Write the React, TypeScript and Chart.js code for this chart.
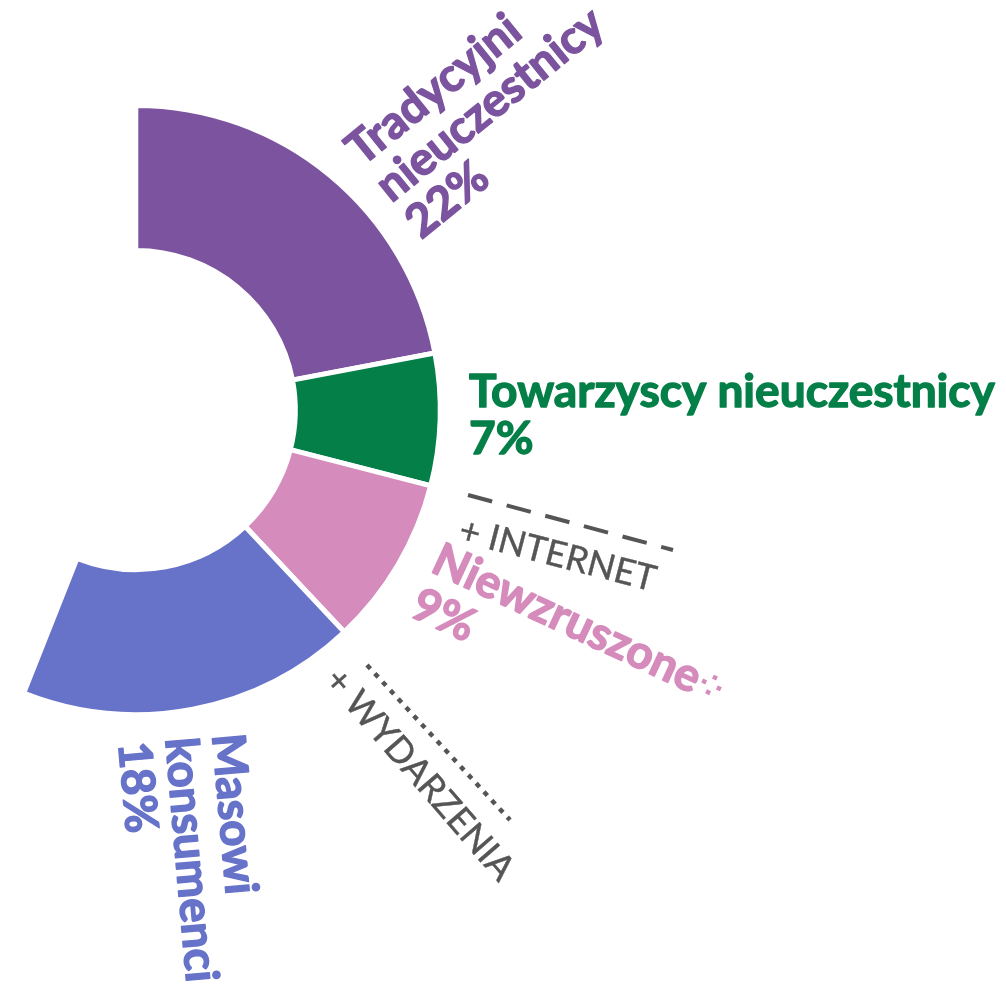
import { useEffect, useRef } from "react";
import { Chart, registerables } from "chart.js";

Chart.register(...registerables);

// ---- data ----
const categories = [
  "Tradycyjni nieuczestnicy",
  "Towarzyscy nieuczestnicy",
  "Niewzruszone",
  "Masowi konsumenci",
];
const shares = [22, 7, 9, 18];
const colors = ["#7B539E", "#047F48", "#D58BBB", "#6673C9"];
const labelLines = [
  ["Tradycyjni", "nieuczestnicy", "22%"],
  ["Towarzyscy nieuczestnicy", "7%"],
  ["Niewzruszone", "9%"],
  ["Masowi", "konsumenci", "18%"],
];
const extraLabels = ["+ INTERNET", "+ WYDARZENIA"];
const footnoteMark = "\u2058";

const total = shares.reduce((a, b) => a + b, 0);

const FONT = '"Lato", "Noto Sans", sans-serif';
const GRAY = "#555555";

function drawBlock(
  ctx: CanvasRenderingContext2D,
  lines: string[],
  x: number,
  y: number,
  angDeg: number,
  font: string,
  color: string,
  lh: number,
  stroke = 0
) {
  ctx.save();
  ctx.translate(x, y);
  ctx.rotate((angDeg * Math.PI) / 180);
  ctx.fillStyle = color;
  ctx.strokeStyle = color;
  ctx.lineWidth = stroke;
  ctx.lineJoin = "round";
  ctx.font = font;
  ctx.textAlign = "left";
  ctx.textBaseline = "alphabetic";
  lines.forEach((l, i) => {
    ctx.fillText(l, 0, i * lh);
    if (stroke > 0) ctx.strokeText(l, 0, i * lh);
  });
  ctx.restore();
}

function drawLine(
  ctx: CanvasRenderingContext2D,
  x1: number,
  y1: number,
  x2: number,
  y2: number,
  dash: number[],
  width: number
) {
  ctx.save();
  ctx.strokeStyle = GRAY;
  ctx.lineWidth = width;
  ctx.lineCap = "butt";
  ctx.setLineDash(dash);
  ctx.beginPath();
  ctx.moveTo(x1, y1);
  ctx.lineTo(x2, y2);
  ctx.stroke();
  ctx.restore();
}

const labelPlugin = {
  id: "segmentLabels",
  afterDraw(chart: any) {
    const ctx: CanvasRenderingContext2D = chart.ctx;
    // fit bold size so that the horizontal label matches the reference width
    ctx.save();
    ctx.font = `bold 100px ${FONT}`;
    const w = ctx.measureText(labelLines[1][0]).width;
    ctx.restore();
    const size = (100 * 526) / w;
    const bold = `bold ${size.toFixed(2)}px ${FONT}`;
    const lh = 47;
    const sw = 1.4;

    drawBlock(ctx, labelLines[0], 362, 167, -39, bold, colors[0], lh, sw);
    drawBlock(ctx, labelLines[1], 469, 407, 0, bold, colors[1], lh, sw);
    drawBlock(ctx, labelLines[2], 429, 571, 25, bold, colors[2], 49, sw);
    drawBlock(ctx, labelLines[3], 212, 735, 85, bold, colors[3], lh, sw);

    // footnote mark after "Niewzruszone"
    ctx.save();
    ctx.font = bold;
    const nw = ctx.measureText(labelLines[2][0]).width;
    ctx.restore();
    ctx.save();
    ctx.translate(429, 571);
    ctx.rotate((25 * Math.PI) / 180);
    ctx.fillStyle = colors[2];
    ctx.font = `bold 30px "DejaVu Sans", sans-serif`;
    ctx.textBaseline = "middle";
    ctx.fillText(footnoteMark, nw + 1, -13);
    ctx.restore();

    const reg = `36px ${FONT}`;
    drawBlock(ctx, [extraLabels[0]], 457, 541, 14.5, reg, GRAY, lh, 0.4);
    drawBlock(ctx, [extraLabels[1]], 323, 681, 49, reg, GRAY, lh, 0.4);

    drawLine(ctx, 468, 495, 673, 550, [25, 15], 4);
    drawLine(ctx, 367, 665, 510, 820, [5, 6.5], 4.5);
  },
};

export default function App() {
  const ref = useRef<HTMLCanvasElement | null>(null);
  useEffect(() => {
    if (!ref.current) return;
    const chart = new Chart(ref.current, {
      type: "doughnut",
      data: {
        labels: categories,
        datasets: [
          {
            data: shares,
            backgroundColor: colors,
            borderColor: "#ffffff",
            borderWidth: 5,
            hoverOffset: 0,
            borderJoinStyle: "miter",
          } as any,
        ],
      },
      options: {
        responsive: false,
        animation: false,
        rotation: 0,
        circumference: total * 3.6,
        cutout: "52.4%",
        events: [],
        layout: { padding: { left: 0, top: 103, right: 542, bottom: 270 } },
        plugins: {
          legend: { display: false },
          tooltip: { enabled: false },
        },
      } as any,
      plugins: [labelPlugin],
    });
    return () => chart.destroy();
  }, []);
  return (
    <div style={{ position: "absolute", left: 0, top: 0, width: 1006, height: 987, background: "#fff" }}>
      <canvas ref={ref} width={1006} height={987} style={{ display: "block" }} />
    </div>
  );
}
